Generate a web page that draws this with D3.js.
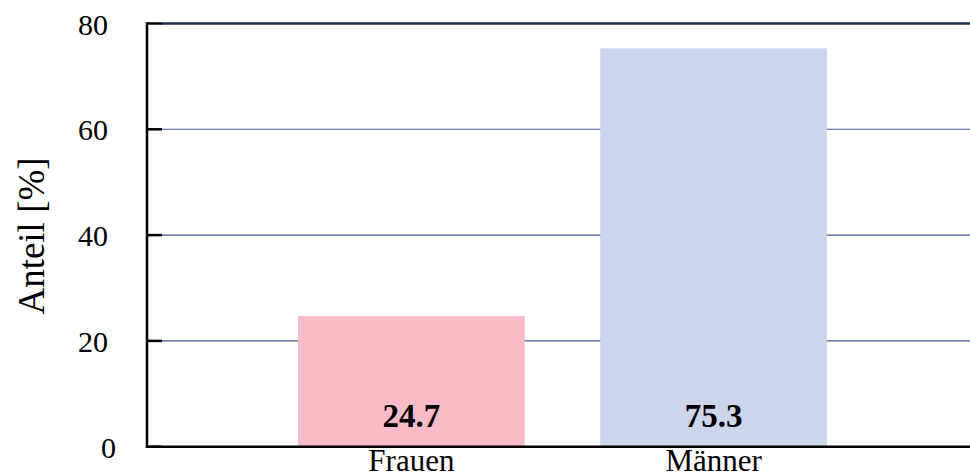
<!DOCTYPE html>
<html>
<head>
<meta charset="utf-8">
<script src="https://cdn.jsdelivr.net/npm/d3@7"></script>
<style>
  html, body { margin: 0; padding: 0; background: #fff; }
  svg { display: block; }
  text { font-family: "Liberation Serif", "DejaVu Serif", serif; fill: #000; }
</style>
</head>
<body>
<svg id="chart" width="970" height="476"></svg>
<script>
const categories = ["Frauen", "Männer"];
const values = [24.7, 75.3];
const barColors = ["#f7bcc8", "#cdd5ec"];
const yTicks = [0, 20, 40, 60, 80];
const yTitle = "Anteil [%]";

(function () {
const svg = d3.select("#chart");
const mLeft = 147, mRight = 970, mTop = 23.5, mBottom = 446.7;

const x = d3.scaleBand().domain(categories).range([mLeft, 978]).paddingInner(0.25).paddingOuter(0.5);
const y = d3.scaleLinear().domain([0, 80]).range([mBottom, mTop]);

// gridlines
svg.append("g").selectAll("line").data(yTicks.filter(t => t > 0 && t < 80)).join("line")
  .attr("x1", mLeft + 15).attr("x2", mRight)
  .attr("y1", d => y(d)).attr("y2", d => y(d))
  .attr("stroke", "#45559c").attr("stroke-width", 1.1);

// top line
svg.append("line").attr("x1", mLeft + 15).attr("x2", mRight)
  .attr("y1", y(80)).attr("y2", y(80))
  .attr("stroke", "#1c2a50").attr("stroke-width", 2.5);

// bars
svg.append("g").selectAll("rect").data(categories).join("rect")
  .attr("x", d => x(d)).attr("width", x.bandwidth())
  .attr("y", (d, i) => y(values[i])).attr("height", (d, i) => y(0) - y(values[i]))
  .attr("fill", (d, i) => barColors[i]);

// value labels
svg.append("g").selectAll("text").data(categories).join("text")
  .attr("x", d => x(d) + x.bandwidth() / 2).attr("y", y(0) - 20)
  .attr("text-anchor", "middle").attr("font-weight", "bold").attr("font-size", 33)
  .text((d, i) => values[i].toFixed(1));

// left axis
svg.append("line").attr("x1", mLeft).attr("x2", mLeft).attr("y1", mTop - 1.2).attr("y2", mBottom + 1.2)
  .attr("stroke", "#000").attr("stroke-width", 2.5);
// ticks
svg.append("g").selectAll("line").data(yTicks).join("line")
  .attr("x1", mLeft).attr("x2", mLeft + 15)
  .attr("y1", d => y(d)).attr("y2", d => y(d))
  .attr("stroke", "#000").attr("stroke-width", 2.5);
// bottom axis
svg.append("line").attr("x1", mLeft - 1.2).attr("x2", mRight).attr("y1", mBottom).attr("y2", mBottom)
  .attr("stroke", "#000").attr("stroke-width", 2.5);

// y tick labels
svg.append("g").selectAll("text").data(yTicks).join("text")
  .attr("x", d => d === 0 ? 116 : 108).attr("y", d => y(d) + 11)
  .attr("text-anchor", "end").attr("font-size", 30)
  .text(d => d);

// category labels
svg.append("g").selectAll("text").data(categories).join("text")
  .attr("x", d => x(d) + x.bandwidth() / 2).attr("y", 471)
  .attr("text-anchor", "middle").attr("font-size", 31)
  .text(d => d);

// y title
svg.append("text").attr("transform", `translate(44,236) rotate(-90)`)
  .attr("text-anchor", "middle").attr("font-size", 37)
  .text(yTitle);
})();
</script>
</body>
</html>
